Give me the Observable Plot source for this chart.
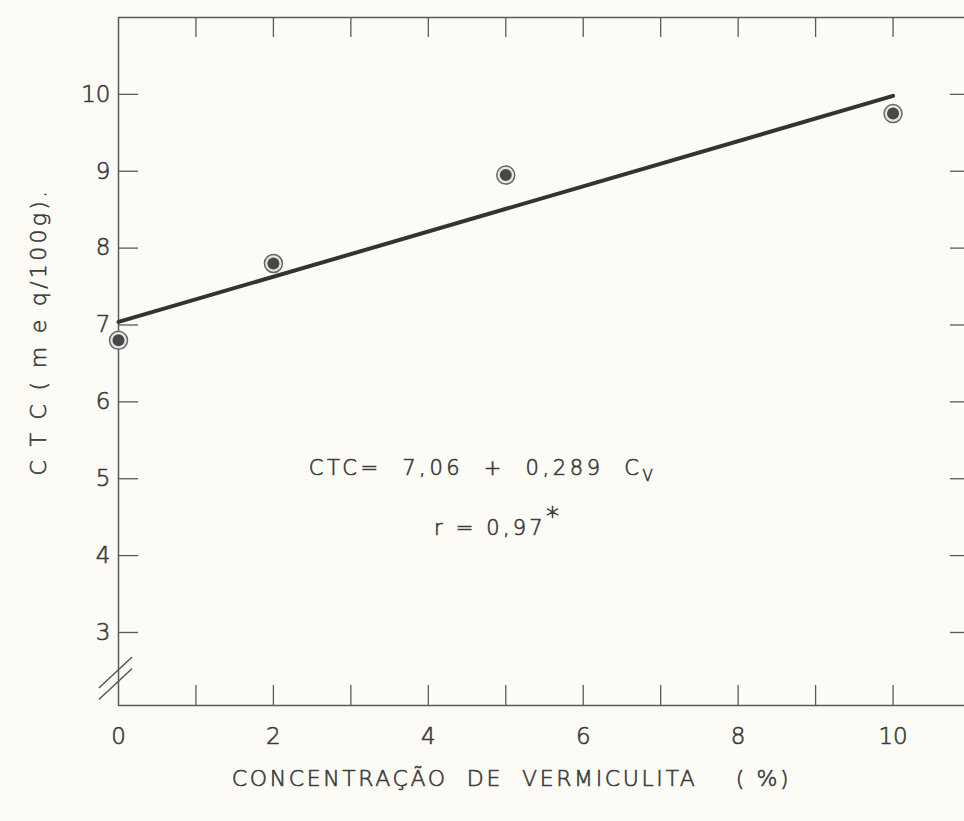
<!DOCTYPE html>
<html>
<head>
<meta charset="utf-8">
<script src="https://cdn.jsdelivr.net/npm/d3@7"></script>
<script src="https://cdn.jsdelivr.net/npm/@observablehq/plot@0.6"></script>
<style>
  body { margin: 0; background: #fcfbf5; }
  #chart svg { display: block; }
</style>
</head>
<body>
<div id="chart"></div>
<script>
// ---- data ----
const concentration = [0, 2, 5, 10];          // % vermiculite
const ctcValues = [6.8, 7.8, 8.95, 9.75];     // CTC (meq/100g)
const fitX = [0, 10];
const fitY = [7.04, 9.98];                    // CTC = 7,06 + 0,289 Cv (as drawn)
const xMinorTicks = [1, 2, 3, 4, 5, 6, 7, 8, 9, 10];
const xTickLabels = [0, 2, 4, 6, 8, 10];
const yTicks = [3, 4, 5, 6, 7, 8, 9, 10];
const axisBreakY = [2.48, 2.33];
const equationText = ["CTC=  7,06  +  0,289  C"];
const equationPos = [{x: 4.7, y: 5.13}];
const rText = ["r = 0,97"];
const rPos = [{x: 4.9, y: 4.35}];
const xLabel = ["CONCENTRAÇÃO  DE  VERMICULITA    ( %)"];
const yLabel = ["C T C ( m e q/100g)."];

const points = concentration.map((c, i) => ({c, v: ctcValues[i]}));
const fit = fitX.map((x, i) => ({x, y: fitY[i]}));
const eq = equationPos.map((p, i) => ({...p, t: equationText[i]}));
const rr = rPos.map((p, i) => ({...p, t: rText[i]}));

const ink = "#3a3a3a";
const txt = {fill: ink, stroke: ink, strokeWidth: 0.6};
const axisTxt = {fill: ink, textStroke: ink, textStrokeWidth: 0.6};
const slash = {draw(context, l) { context.moveTo(0, 0); context.lineTo(0, -l); }};

const chart = Plot.plot({
  width: 964,
  height: 821,
  marginLeft: 118,
  marginRight: -6,
  marginTop: 17,
  marginBottom: 116,
  style: {background: "transparent", fontFamily: "DejaVu Sans", fontWeight: 300, color: ink, whiteSpace: "pre"},
  x: {domain: [0, 11]},
  y: {domain: [2.05, 11]},
  marks: [
    Plot.frame({stroke: "#5a5a5a", strokeWidth: 1.5}),
    Plot.tickX(xMinorTicks, {x: d => d, insetTop: 668, stroke: "#5a5a5a", strokeWidth: 1.3}),
    Plot.tickX(xMinorTicks, {x: d => d, insetBottom: 668, stroke: "#5a5a5a", strokeWidth: 1.3}),
    Plot.tickY(yTicks, {y: d => d, insetRight: 832, stroke: "#5a5a5a", strokeWidth: 1.3}),
    Plot.tickY(yTicks, {y: d => d, insetLeft: 832, stroke: "#5a5a5a", strokeWidth: 1.3}),
    Plot.axisX(xTickLabels, {tickSize: 0, tickPadding: 22, fontSize: 23, label: null, ...axisTxt, tickFormat: d => String(d)}),
    Plot.axisY(yTicks, {tickSize: 0, tickPadding: 8, fontSize: 23, label: null, ...axisTxt, tickFormat: d => String(d)}),
    Plot.vector(axisBreakY, {x: 0, y: d => d, length: 44, rotate: 47, anchor: "middle", shape: slash, stroke: "#555", strokeWidth: 1.5, dx: -3}),
    Plot.line(fit, {x: "x", y: "y", stroke: "#333", strokeWidth: 4}),
    Plot.dot(points, {x: "c", y: "v", r: 9, stroke: "#666", strokeWidth: 1.5, fill: "#e6e6e2"}),
    Plot.dot(points, {x: "c", y: "v", r: 6, fill: "#484848"}),
    Plot.text(eq, {x: "x", y: "y", text: "t", fontSize: 21, ...txt}),
    Plot.text(rr, {x: "x", y: "y", text: "t", fontSize: 21, ...txt}),
    Plot.text(xLabel, {frameAnchor: "bottom", textAnchor: "middle", text: d => d, dy: 80, dx: -33, fontSize: 22, ...txt}),
    Plot.text(yLabel, {frameAnchor: "left", textAnchor: "middle", text: d => d, rotate: -90, dx: -80, dy: -30, fontSize: 22, ...txt})
  ]
});

// subscript V, asterisk and spacing of the hand lettering
d3.select(chart).selectAll("text").each(function () {
  const s = d3.select(this);
  const t = this.textContent;
  if (t === equationText[0]) {
    s.style("letter-spacing", "3.6px");
    s.append("tspan").attr("dy", 6).attr("font-size", 15).text("V");
  } else if (t === rText[0]) {
    s.style("letter-spacing", "3.2px");
    s.append("tspan").attr("dy", -9).attr("font-size", 26).text("*");
  } else if (t === xLabel[0]) {
    s.style("letter-spacing", "2.6px");
  } else if (t === yLabel[0]) {
    s.style("letter-spacing", "3.3px");
  }
});

document.getElementById("chart").appendChild(chart);
</script>
</body>
</html>
